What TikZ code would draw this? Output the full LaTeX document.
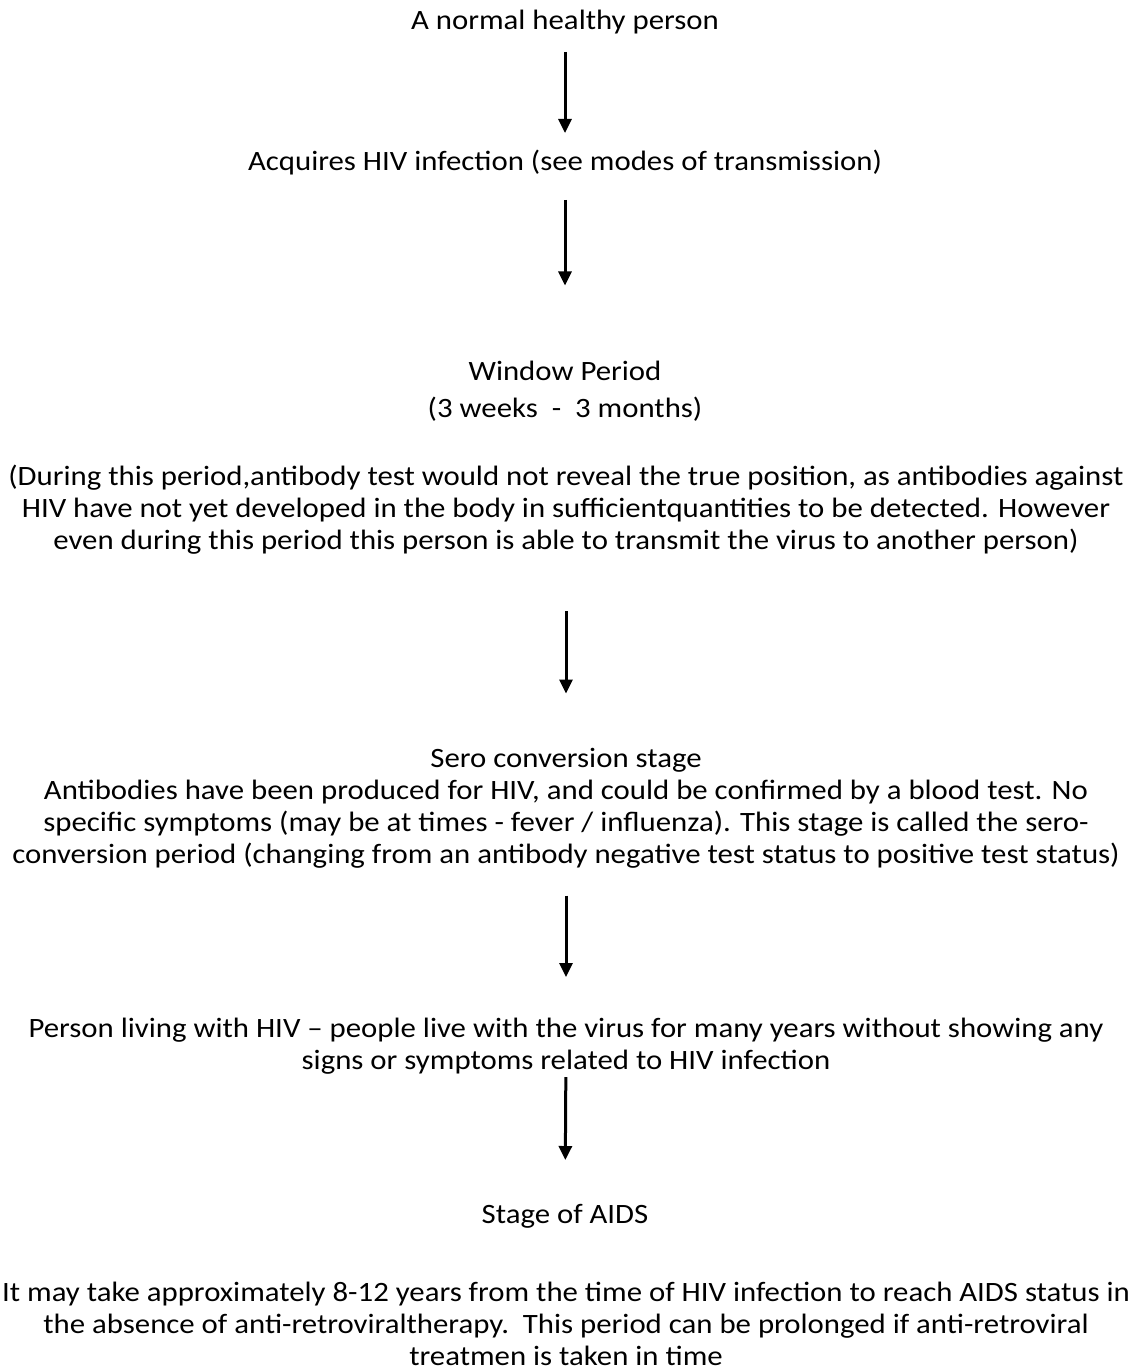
\documentclass[tikz,border=0pt]{standalone}
\usepackage{fontspec}
\setmainfont[FakeStretch=1.1]{Carlito}
\usetikzlibrary{arrows.meta}

\tikzset{
  stagetext/.style={align=center, inner sep=0pt, font=\fontsize{14}{16}\selectfont},
  flowarrow/.style={line width=1.5pt, -{Triangle[width=6.5pt,length=7pt]}}
}

\begin{document}
\begin{tikzpicture}[x=0.5pt,y=-0.5pt]

  \useasboundingbox (0,0) rectangle (1132,1369);

  \node[stagetext] (healthy) at (565,22) {A normal healthy person};
  \node[stagetext] (acquire) at (565,163) {Acquires HIV infection (see modes of transmission)};
  \node[stagetext] (window) at (565,391.5) {Window Period\\[2.5pt](3 weeks\ \ -\ \ 3 months)};
  \node[stagetext] (during) at (566,510) {(During this period,antibody test would not reveal the true position, as antibodies against\\
    HIV have not yet developed in the body in sufficientquantities to be detected. However\\
    even during this period this person is able to transmit the virus to another person)};
  \node[stagetext] (sero) at (566,808.5) {Sero conversion stage\\
    Antibodies have been produced for HIV, and could be confirmed by a blood test. No\\
    specific symptoms (may be at times - fever / influenza). This stage is called the sero-\\
    conversion period (changing from an antibody negative test status to positive test status)};
  \node[stagetext] (living) at (566,1046.5) {Person living with HIV – people live with the virus for many years without showing any\\
    signs or symptoms related to HIV infection};
  \node[stagetext] (aids) at (565,1216) {Stage of AIDS};
  \node[stagetext] (absence) at (566,1324) {It may take approximately 8-12 years from the time of HIV infection to reach AIDS status in\\
    the absence of anti-retroviraltherapy.\ \ This period can be prolonged if anti-retroviral\\
    treatmen is taken in time};

  % arrows between the stages
  \draw[flowarrow, shorten <=15pt, shorten >=15pt] (healthy.center) -- (acquire.center);
  \draw[flowarrow, shorten <=18.5pt, shorten >=53pt] (acquire.center) -- (window.center);
  \draw[flowarrow, shorten <=50.5pt, shorten >=57.5pt] (during.center) -- (sero.center);
  \draw[flowarrow, shorten <=43.5pt, shorten >=34.75pt] (sero.center) -- (living.center);
  \draw[flowarrow, shorten <=15.25pt, shorten >=28pt] (living.center) -- (aids.center);

\end{tikzpicture}
\end{document}
